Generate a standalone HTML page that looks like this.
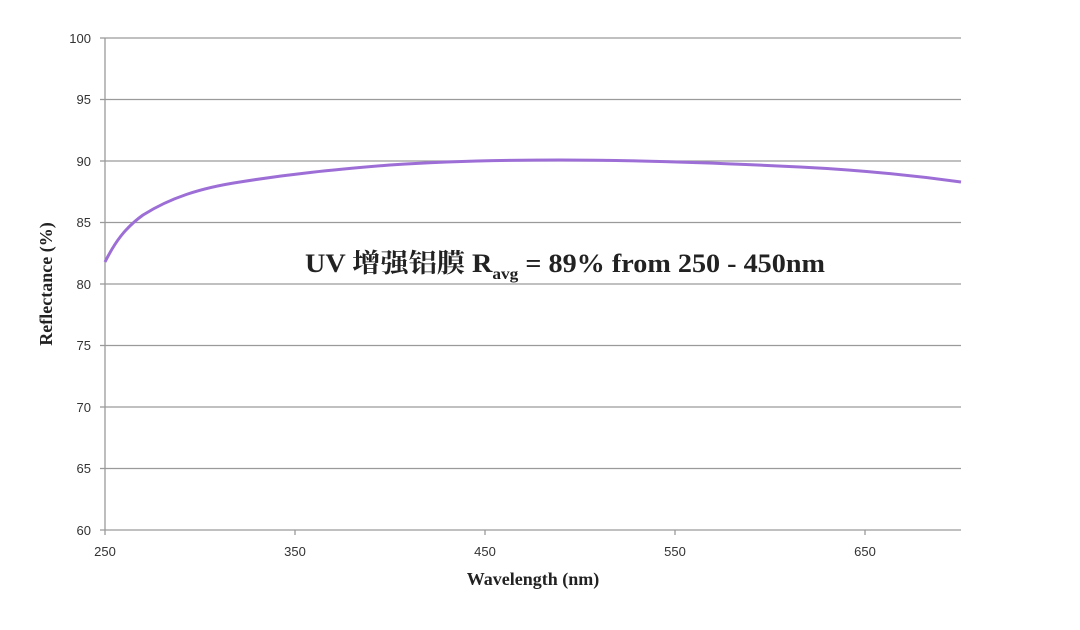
<!DOCTYPE html>
<html><head><meta charset="utf-8"><style>
html,body{margin:0;padding:0;background:#fff;}
svg{display:block;}
</style></head><body>
<svg width="1080" height="630" xmlns="http://www.w3.org/2000/svg">
<g stroke="#9a9a9a" stroke-width="1.3">
<line x1="105" y1="38" x2="961" y2="38"/>
<line x1="105" y1="99.5" x2="961" y2="99.5"/>
<line x1="105" y1="161" x2="961" y2="161"/>
<line x1="105" y1="222.5" x2="961" y2="222.5"/>
<line x1="105" y1="284" x2="961" y2="284"/>
<line x1="105" y1="345.5" x2="961" y2="345.5"/>
<line x1="105" y1="407" x2="961" y2="407"/>
<line x1="105" y1="468.5" x2="961" y2="468.5"/>
<line x1="100" y1="530" x2="961" y2="530"/>
<line x1="105" y1="38" x2="105" y2="535"/>
<line x1="100" y1="38" x2="105" y2="38"/>
<line x1="100" y1="99.5" x2="105" y2="99.5"/>
<line x1="100" y1="161" x2="105" y2="161"/>
<line x1="100" y1="222.5" x2="105" y2="222.5"/>
<line x1="100" y1="284" x2="105" y2="284"/>
<line x1="100" y1="345.5" x2="105" y2="345.5"/>
<line x1="100" y1="407" x2="105" y2="407"/>
<line x1="100" y1="468.5" x2="105" y2="468.5"/>
<line x1="295" y1="530" x2="295" y2="535"/>
<line x1="485" y1="530" x2="485" y2="535"/>
<line x1="675" y1="530" x2="675" y2="535"/>
<line x1="865" y1="530" x2="865" y2="535"/>
</g>
<g font-family="Liberation Sans, sans-serif" font-size="13" fill="#333" text-anchor="end">
<text x="91" y="43">100</text><text x="91" y="104">95</text><text x="91" y="166">90</text>
<text x="91" y="227">85</text><text x="91" y="289">80</text><text x="91" y="350">75</text>
<text x="91" y="412">70</text><text x="91" y="473">65</text><text x="91" y="535">60</text>
</g>
<g font-family="Liberation Sans, sans-serif" font-size="13" fill="#333" text-anchor="middle">
<text x="105" y="556">250</text><text x="295" y="556">350</text><text x="485" y="556">450</text>
<text x="675" y="556">550</text><text x="865" y="556">650</text>
</g>
<text x="533" y="585" font-family="Liberation Serif, serif" font-weight="bold" font-size="18" fill="#222" text-anchor="middle">Wavelength (nm)</text>
<text transform="translate(52,284) rotate(-90)" font-family="Liberation Serif, serif" font-weight="bold" font-size="18" fill="#222" text-anchor="middle">Reflectance (%)</text>
<text x="305" y="272" font-family="Liberation Serif, 'Noto Serif CJK SC', serif" font-weight="bold" font-size="26" fill="#222" textLength="520" lengthAdjust="spacingAndGlyphs">UV 增强铝膜 R<tspan font-size="16" dy="7">avg</tspan><tspan dy="-7"> = 89% from 250 - 450nm</tspan></text>
<path d="M105,262 C115,242 125,228 143,215 C170,198 200,188 240,182 C290,174 330,170 390,165 C450,161 500,160 560,160 C640,160 720,163 800,167 C860,170 910,175 961,182" fill="none" stroke="#9d6fd6" stroke-width="3"/>
</svg>
</body></html>
